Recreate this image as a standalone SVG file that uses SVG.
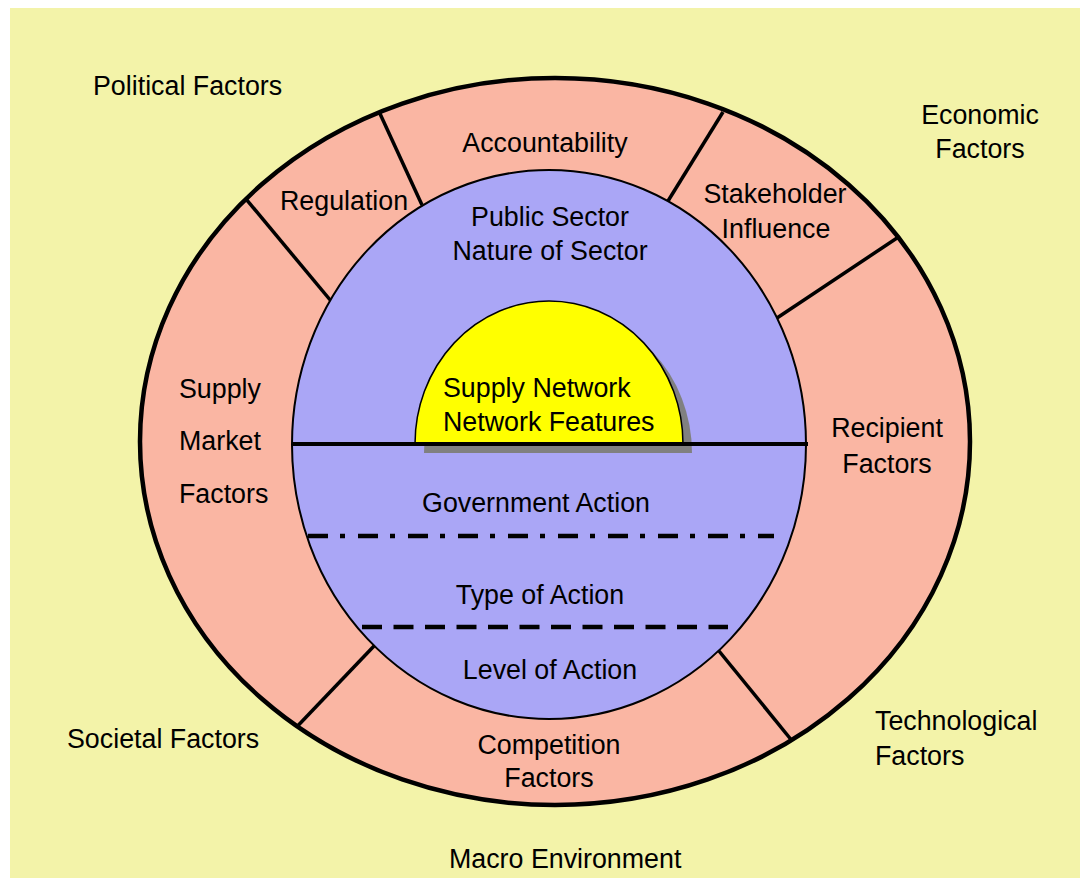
<svg xmlns="http://www.w3.org/2000/svg" width="1080" height="878" viewBox="0 0 1080 878">
<style>
text{font-family:"Liberation Sans",Arial,sans-serif;font-size:26.8px;fill:#000}
.c{text-anchor:middle}
.div{stroke:#000;stroke-width:3.5;fill:none}
</style>
<defs>
<clipPath id="ringClip"><ellipse cx="555" cy="441.5" rx="415" ry="363.5"/></clipPath>
</defs>
<rect x="0" y="0" width="1080" height="878" fill="#ffffff"/>
<rect id="background" x="10" y="8" width="1070" height="870" fill="#F3F3A9"/>
<g id="outer-ring">
<ellipse cx="555" cy="441.5" rx="415" ry="363.5" fill="#FAB6A3"/>
</g>
<g id="connectors" clip-path="url(#ringClip)">
<line class="div" x1="236" y1="187" x2="331" y2="301"/>
<line class="div" x1="376" y1="105" x2="422" y2="205"/>
<line class="div" x1="723" y1="112" x2="668" y2="201"/>
<line class="div" x1="900" y1="236" x2="777" y2="318"/>
<line class="div" x1="719" y1="651" x2="793" y2="742"/>
<line class="div" x1="374" y1="646" x2="289" y2="735"/>
</g>
<ellipse cx="555" cy="441.5" rx="415" ry="363.5" fill="none" stroke="#000" stroke-width="4.5"/>
<g id="inner-circle">
<ellipse cx="549" cy="444.5" rx="257" ry="274.5" fill="#AAA6F6" stroke="#000" stroke-width="2"/>
</g>
<g id="supply-network">
<path d="M424 453 A134 143 0 0 1 692 453 Z" fill="#808080"/>
<path d="M415 444 A134 143 0 0 1 683 444 Z" fill="#FFFF00" stroke="#000" stroke-width="1.5"/>
<text x="443" y="397">Supply Network</text>
<text x="443" y="431">Network Features</text>
</g>
<g id="dividers-inner">
<line x1="292" y1="444" x2="808" y2="444" stroke="#000" stroke-width="4"/>
<line x1="308" y1="536" x2="774" y2="536" stroke="#000" stroke-width="4.5" stroke-dasharray="20 12 5 13"/>
<line x1="362" y1="627" x2="728" y2="627" stroke="#000" stroke-width="4.5" stroke-dasharray="20 11.5"/>
</g>
<g id="public-sector"><text class="c" x="550" y="226">Public Sector</text><text class="c" x="550" y="260">Nature of Sector</text></g>
<g id="government-action"><text class="c" x="536" y="512">Government Action</text></g>
<g id="type-of-action"><text class="c" x="540" y="604">Type of Action</text></g>
<g id="level-of-action"><text class="c" x="550" y="679">Level of Action</text></g>
<g id="accountability"><text class="c" x="545" y="152">Accountability</text></g>
<g id="regulation"><text x="280" y="210">Regulation</text></g>
<g id="stakeholder"><text class="c" x="775" y="203">Stakeholder</text><text class="c" x="776" y="238">Influence</text></g>
<g id="recipient"><text class="c" x="887" y="437">Recipient</text><text class="c" x="887" y="473">Factors</text></g>
<g id="supply-market"><text x="179" y="398">Supply</text><text x="179" y="450">Market</text><text x="179" y="503">Factors</text></g>
<g id="competition"><text class="c" x="549" y="754">Competition</text><text class="c" x="549" y="787">Factors</text></g>
<g id="political"><text x="93" y="95">Political Factors</text></g>
<g id="economic"><text class="c" x="980" y="124">Economic</text><text class="c" x="980" y="158">Factors</text></g>
<g id="societal"><text x="67" y="748">Societal Factors</text></g>
<g id="technological"><text x="875" y="730">Technological</text><text x="875" y="765">Factors</text></g>
<g id="macro"><text x="449" y="868">Macro Environment</text></g>
</svg>
